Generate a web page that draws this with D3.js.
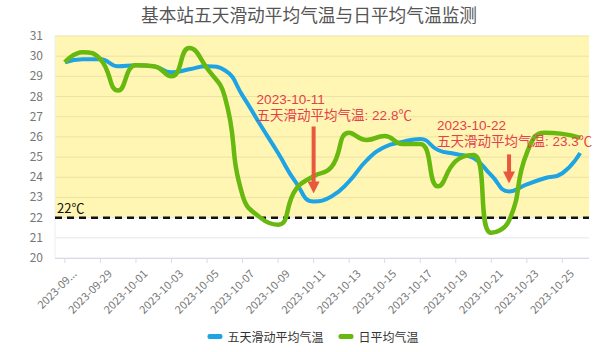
<!DOCTYPE html>
<html>
<head>
<meta charset="utf-8">
<script src="https://cdn.jsdelivr.net/npm/d3@7"></script>
<style>
  body { margin: 0; background: #fff; }
  svg text { font-family: "Noto Sans CJK SC", "Noto Sans", sans-serif; }
  svg text.note { font-family: "Liberation Sans", "Noto Sans CJK SC", sans-serif; }
</style>
</head>
<body>
<div id="chart"></div>
<script>
// categories (one per day)
var dates = [
  "2023-09-27", "2023-09-28", "2023-09-29", "2023-09-30", "2023-10-01",
  "2023-10-02", "2023-10-03", "2023-10-04", "2023-10-05", "2023-10-06",
  "2023-10-07", "2023-10-08", "2023-10-09", "2023-10-10", "2023-10-11",
  "2023-10-12", "2023-10-13", "2023-10-14", "2023-10-15", "2023-10-16",
  "2023-10-17", "2023-10-18", "2023-10-19", "2023-10-20", "2023-10-21",
  "2023-10-22", "2023-10-23", "2023-10-24", "2023-10-25", "2023-10-26"
];
// 五天滑动平均气温
var movingAvg = [
  29.7, 29.85, 29.85, 29.5, 29.55, 29.5, 29.2, 29.35, 29.5, 29.3,
  28.05, 26.6, 25.2, 23.75, 22.8, 23.05, 23.8, 24.85, 25.5, 25.75,
  25.9, 25.35, 25.15, 24.95, 24.1, 23.3, 23.65, 23.95, 24.2, 25.2
];
// 日平均气温
var dailyAvg = [
  29.7, 30.2, 29.85, 28.3, 29.55, 29.5, 29.0, 30.4, 29.4, 28.0,
  23.1, 22.0, 21.65, 23.4, 24.05, 24.5, 26.2, 25.85, 26.05, 25.65,
  25.65, 23.55, 24.8, 25.1, 21.25, 21.85, 25.2, 26.2, 26.15, 25.95
];
var yTicks = [20, 21, 22, 23, 24, 25, 26, 27, 28, 29, 30, 31];
var threshold = 22;
var noteDates = ["2023-10-11", "2023-10-22"];
var noteValues = [22.8, 23.3];
var seriesNames = ["五天滑动平均气温", "日平均气温"];

var width = 600, height = 352;
var margin = {top: 36, right: 11, bottom: 94, left: 56};
var colors = ["#1ea3e4", "#67b80f"];

var svg = d3.select("#chart").append("svg")
    .attr("width", width)
    .attr("height", height);

var x = d3.scaleBand().domain(dates).range([margin.left, width - margin.right]);
var y = d3.scaleLinear().domain([20, 31]).range([height - margin.bottom, margin.top]);
var cx = function(d) { return x(d) + x.bandwidth() / 2; };

// title
svg.append("text")
    .attr("x", 309).attr("y", 22)
    .attr("text-anchor", "middle")
    .attr("font-size", 17.7)
    .attr("fill", "#555")
    .text("基本站五天滑动平均气温与日平均气温监测");

// yellow band above 22
svg.append("rect")
    .attr("x", margin.left - 1)
    .attr("y", y(31))
    .attr("width", width - margin.right - margin.left + 1)
    .attr("height", y(threshold) - y(31))
    .attr("fill", "#fff6b3");

// grid lines
svg.append("g").selectAll("line").data(yTicks).join("line")
    .attr("x1", margin.left - 1).attr("x2", width - margin.right)
    .attr("y1", d => y(d)).attr("y2", d => y(d))
    .attr("stroke", d => d > threshold ? "#ece3a4" : "#e6e6ee")
    .attr("stroke-width", 1);

svg.append("line")
    .attr("x1", margin.left - 1).attr("x2", margin.left - 1)
    .attr("y1", y(31)).attr("y2", y(20))
    .attr("stroke", "#eceef4");

// y labels
svg.append("g").selectAll("text").data(yTicks).join("text")
    .attr("x", 43).attr("y", d => y(d) + 4)
    .attr("text-anchor", "end")
    .attr("font-size", 12)
    .attr("fill", "#777")
    .text(d => d);

// x axis
var xAxis = d3.axisBottom(x)
    .tickValues(dates.filter((d, i) => i % 2 == 0))
    .tickSize(5)
    .tickPadding(6)
    .tickFormat((d, i) => i == 0 ? d.slice(0, 7) + "..." : d);

var gx = svg.append("g")
    .attr("transform", "translate(0," + y(20) + ")")
    .call(xAxis);
gx.select(".domain").attr("stroke", "#d8dbe6").attr("d", "M" + (margin.left - 1) + ",0.5H" + (width - margin.right));
gx.selectAll(".tick line").attr("stroke", "#d8dbe6");
gx.selectAll(".tick text")
    .attr("font-family", "\"Noto Sans CJK SC\", sans-serif")
    .attr("font-size", 11)
    .attr("fill", "#777")
    .attr("text-anchor", "end")
    .attr("dy", "0.35em")
    .attr("transform", "translate(2,6) rotate(-45)");

// 22 threshold
svg.append("line")
    .attr("x1", margin.left - 1).attr("x2", width - margin.right)
    .attr("y1", y(threshold)).attr("y2", y(threshold))
    .attr("stroke", "#111")
    .attr("stroke-width", 2.5)
    .attr("stroke-dasharray", "7,5");
svg.append("text")
    .attr("x", margin.left + 1).attr("y", y(threshold) - 5)
    .attr("font-size", 13)
    .attr("fill", "#111")
    .text(threshold + "℃");

// echarts-like smooth curve (control points clamped, no overshoot)
function SmoothCurve(context) { this._context = context; this._s = 0.5; }
SmoothCurve.prototype = {
  areaStart: function() {}, areaEnd: function() {},
  lineStart: function() { this._p = []; },
  point: function(px, py) { this._p.push([+px, +py]); },
  lineEnd: function() {
    var p = this._p, c = this._context, s = this._s, n = p.length;
    c.moveTo(p[0][0], p[0][1]);
    var cp0x = p[0][0], cp0y = p[0][1];
    for (var i = 1; i < n; i++) {
      var px = p[i-1][0], py = p[i-1][1], X = p[i][0], Y = p[i][1];
      var cp1x, cp1y, ncx = X, ncy = Y;
      if (i == n - 1) { cp1x = X; cp1y = Y; }
      else {
        var nx = p[i+1][0], ny = p[i+1][1];
        var vx = nx - px, vy = ny - py;
        var l0 = Math.hypot(X - px, Y - py), l1 = Math.hypot(nx - X, ny - Y);
        var r = l1 / (l0 + l1);
        ncx = X + vx * s * r; ncy = Y + vy * s * r;
        ncx = Math.max(Math.min(ncx, Math.max(nx, X)), Math.min(nx, X));
        ncy = Math.max(Math.min(ncy, Math.max(ny, Y)), Math.min(ny, Y));
        vx = ncx - X; vy = ncy - Y;
        cp1x = X - vx * l0 / l1; cp1y = Y - vy * l0 / l1;
        cp1x = Math.max(Math.min(cp1x, Math.max(px, X)), Math.min(px, X));
        cp1y = Math.max(Math.min(cp1y, Math.max(py, Y)), Math.min(py, Y));
        vx = X - cp1x; vy = Y - cp1y;
        ncx = X + vx * l1 / l0; ncy = Y + vy * l1 / l0;
      }
      c.bezierCurveTo(cp0x, cp0y, cp1x, cp1y, X, Y);
      cp0x = ncx; cp0y = ncy;
    }
  }
};
var smooth = function(context) { return new SmoothCurve(context); };

var line = d3.line()
    .x((d, i) => cx(dates[i]))
    .y(d => y(d))
    .curve(smooth);

svg.append("path").datum(movingAvg)
    .attr("d", line)
    .attr("fill", "none")
    .attr("stroke", colors[0])
    .attr("stroke-width", 4)
    .attr("stroke-linejoin", "round");

svg.append("path").datum(dailyAvg)
    .attr("d", line)
    .attr("fill", "none")
    .attr("stroke", colors[1])
    .attr("stroke-width", 4.5)
    .attr("stroke-linejoin", "round");

// annotations
svg.append("defs").append("marker")
    .attr("id", "arrow")
    .attr("viewBox", "0 0 10 10")
    .attr("refX", 5).attr("refY", 5)
    .attr("markerWidth", 3).attr("markerHeight", 3)
    .attr("orient", "auto")
    .append("path").attr("d", "M0,0L10,5L0,10z").attr("fill", "#e8583e");

var arrowLen = [65, 27];
var textDx = [-57, -72];
var textDy = [-97, -61];
noteDates.forEach(function(d, k) {
  var ax = cx(d), ay = y(noteValues[k]) - 10;
  svg.append("line")
      .attr("x1", ax).attr("x2", ax)
      .attr("y1", ay - arrowLen[k]).attr("y2", ay - 4)
      .attr("stroke", "#e8583e")
      .attr("stroke-width", 4)
      .attr("marker-end", "url(#arrow)");
  var tx = ax + textDx[k], ty = y(noteValues[k]) + textDy[k];
  svg.append("text").attr("class", "note")
      .attr("x", tx).attr("y", ty)
      .attr("font-size", 13.5)
      .attr("fill", "#e5404d")
      .text(d);
  svg.append("text").attr("class", "note")
      .attr("x", tx).attr("y", ty + 16)
      .attr("font-size", 13.5)
      .attr("fill", "#e5404d")
      .text(seriesNames[0] + ": " + noteValues[k] + "℃");
});

// legend
var legend = svg.append("g");
var lx = 0;
var items = legend.selectAll("g").data(seriesNames).join("g");
items.append("rect")
    .attr("y", -3).attr("width", 15).attr("height", 5).attr("rx", 2)
    .attr("fill", (d, i) => colors[i]);
items.append("text")
    .attr("x", 20).attr("y", 4.5)
    .attr("font-size", 12)
    .attr("fill", "#333")
    .text(d => d);
items.each(function() {
  d3.select(this).attr("transform", "translate(" + lx + ",0)");
  lx += this.getBBox().width + 15;
});
legend.attr("transform", "translate(" + (313 - (lx - 15) / 2) + ",337)");
</script>
</body>
</html>
